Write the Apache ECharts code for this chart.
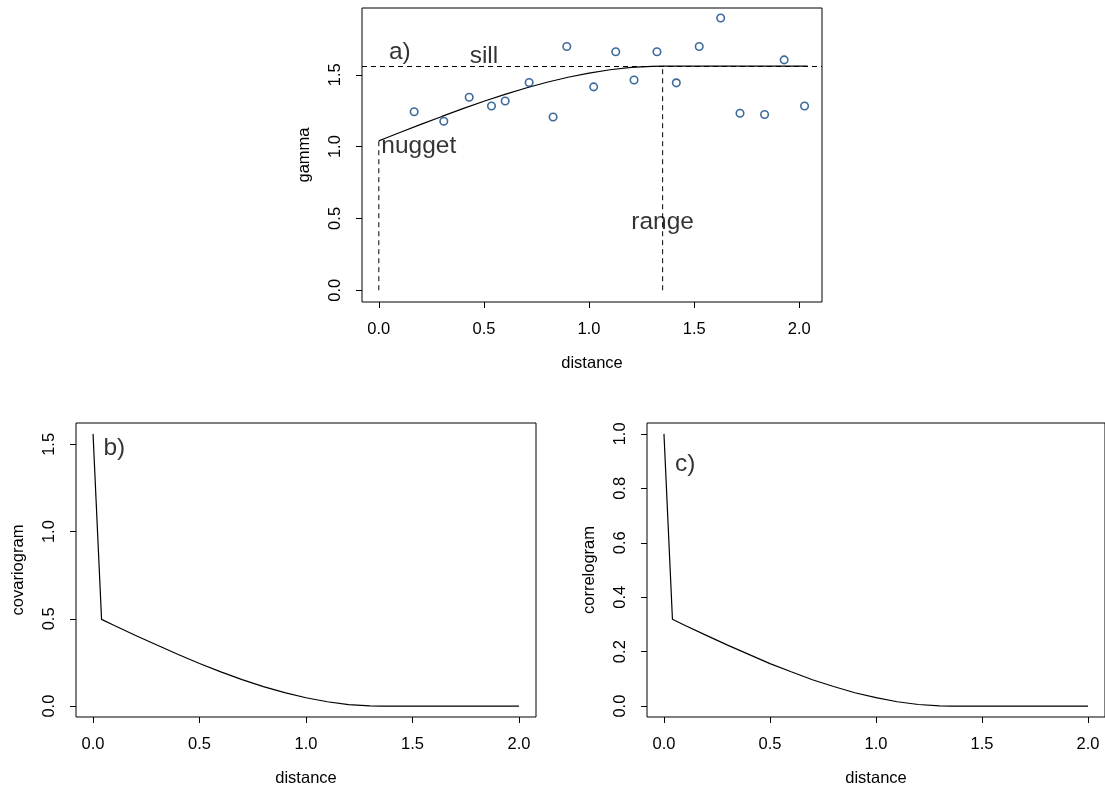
<!DOCTYPE html>
<html lang="en">
<head>
    <meta charset="UTF-8">
    <title>variogram, covariogram, correlogram</title>
    <script src="https://cdn.jsdelivr.net/npm/echarts@6/dist/echarts.min.js"></script>
    <style>
        body { margin: 0; background: #fff; }
        #container { width: 1105px; height: 792px; }
    </style>
</head>
<body>
<div id="container"></div>
<script>
    // empirical semivariogram (panel a)
    var gammaDist = [0.168, 0.309, 0.430, 0.536, 0.601, 0.715, 0.829, 0.894, 1.022, 1.127,
        1.214, 1.323, 1.415, 1.524, 1.626, 1.718, 1.835, 1.928, 2.025];
    var gammaVal = [1.243, 1.176, 1.344, 1.283, 1.318, 1.446, 1.206, 1.697, 1.416, 1.660,
        1.464, 1.660, 1.444, 1.697, 1.895, 1.232, 1.223, 1.604, 1.283];

    // fitted model
    var modelDist = [0, 0.04, 0.1, 0.2, 0.3, 0.4, 0.5, 0.6, 0.7, 0.8, 0.9, 1.0, 1.1, 1.2, 1.3, 1.35, 2.04];
    var modelGamma = [1.04, 1.063, 1.098, 1.155, 1.210, 1.264, 1.316, 1.364, 1.408, 1.448, 1.483,
        1.512, 1.535, 1.551, 1.559, 1.56, 1.56];

    var covDist = [0, 0.04, 0.1, 0.2, 0.3, 0.4, 0.5, 0.6, 0.7, 0.8, 0.9, 1.0, 1.1, 1.2, 1.3, 1.35, 2.0];
    var covVal = [1.56, 0.497, 0.462, 0.405, 0.350, 0.296, 0.244, 0.196, 0.152, 0.112, 0.077,
        0.048, 0.025, 0.009, 0.001, 0, 0];
    var corVal = [1.0, 0.319, 0.296, 0.260, 0.224, 0.190, 0.156, 0.126, 0.097, 0.072, 0.049,
        0.031, 0.016, 0.006, 0.001, 0, 0];

    var sill = 1.56;
    var nugget = 1.04;
    var range = 1.35;

    var xTicks = [0, 0.5, 1.0, 1.5, 2.0];
    var yTicksA = [0, 0.5, 1.0, 1.5];
    var yTicksB = [0, 0.5, 1.0, 1.5];
    var yTicksC = [0, 0.2, 0.4, 0.6, 0.8, 1.0];

    var annoA = ['a)', 'sill', 'nugget', 'range'];
    var annoAX = [0.1, 0.5, 0.19, 1.35];
    var annoAY = [1.66, 1.63, 1.0, 0.47];

    var font = '"Liberation Sans", Arial, Helvetica, sans-serif';

    function pairs(xs, ys) {
        var out = [];
        for (var i = 0; i < xs.length; i++) out.push([xs[i], ys[i]]);
        return out;
    }

    function xAxisFor(idx, min, max) {
        return {
            type: 'value', gridIndex: idx, min: min, max: max,
            name: 'distance', nameLocation: 'middle', nameGap: 53,
            nameTextStyle: {fontSize: 16.5, color: '#000', fontFamily: font},
            axisLine: {show: false, onZero: false}, splitLine: {show: false},
            axisTick: {show: true, inside: false, length: 6, customValues: xTicks, lineStyle: {color: '#000', width: 1}},
            axisLabel: {
                customValues: xTicks, margin: 19, fontSize: 16.5, color: '#000', fontFamily: font,
                formatter: function (v) { return v.toFixed(1); }
            }
        };
    }

    function yAxisFor(idx, min, max, ticks, name) {
        return {
            type: 'value', gridIndex: idx, min: min, max: max,
            name: name, nameLocation: 'middle', nameGap: 49,
            nameTextStyle: {fontSize: 16.5, color: '#000', fontFamily: font},
            axisLine: {show: false, onZero: false}, splitLine: {show: false},
            axisTick: {show: true, inside: false, length: 6, customValues: ticks, lineStyle: {color: '#000', width: 1}},
            axisLabel: {
                customValues: ticks, margin: 18, rotate: 90, fontSize: 16.5, color: '#000', fontFamily: font,
                formatter: function (v) { return v.toFixed(1); }
            }
        };
    }

    function textSeries(idx, labels, xs, ys) {
        var data = [];
        for (var i = 0; i < labels.length; i++) data.push({value: [xs[i], ys[i]], name: labels[i]});
        return {
            type: 'scatter', xAxisIndex: idx, yAxisIndex: idx, symbolSize: 0.1,
            itemStyle: {color: 'rgba(0,0,0,0)'}, silent: true, z: 5,
            label: {
                show: true, position: 'inside', formatter: '{b}', color: '#000',
                fontSize: 24.5, fontFamily: font
            },
            data: data
        };
    }

    var solid = {color: '#000', width: 1.2};
    var dashed = {color: '#000', width: 1, type: [5, 4]};
    var box = {show: true, borderColor: '#000', borderWidth: 1, backgroundColor: 'transparent'};

    var option = {
        animation: false,
        backgroundColor: '#fff',
        grid: [
            Object.assign({left: 362, top: 8, width: 460, height: 294}, box),
            Object.assign({left: 76, top: 423, width: 460, height: 294}, box),
            Object.assign({left: 647, top: 423, width: 460, height: 294}, box)
        ],
        xAxis: [
            xAxisFor(0, -0.08, 2.108),
            xAxisFor(1, -0.08, 2.08),
            xAxisFor(2, -0.08, 2.08)
        ],
        yAxis: [
            yAxisFor(0, -0.082, 1.965, yTicksA, 'gamma'),
            yAxisFor(1, -0.0624, 1.6224, yTicksB, 'covariogram'),
            yAxisFor(2, -0.04, 1.04, yTicksC, 'correlogram')
        ],
        series: [
            {
                type: 'line', xAxisIndex: 0, yAxisIndex: 0, showSymbol: false, silent: true,
                lineStyle: solid, data: pairs(modelDist, modelGamma),
                markLine: {
                    silent: true, symbol: 'none', label: {show: false},
                    lineStyle: dashed, data: [{yAxis: sill}]
                }
            },
            {
                type: 'line', xAxisIndex: 0, yAxisIndex: 0, showSymbol: false, silent: true,
                lineStyle: dashed, data: [[0, 0], [0, nugget]]
            },
            {
                type: 'line', xAxisIndex: 0, yAxisIndex: 0, showSymbol: false, silent: true,
                lineStyle: dashed, data: [[range, 0], [range, sill]]
            },
            {
                type: 'scatter', xAxisIndex: 0, yAxisIndex: 0, symbol: 'circle', symbolSize: 7.5,
                silent: true, z: 4,
                itemStyle: {color: 'rgba(0,0,0,0)', borderColor: '#0b4585', borderWidth: 1.6},
                data: pairs(gammaDist, gammaVal)
            },
            textSeries(0, annoA, annoAX, annoAY),
            {
                type: 'line', xAxisIndex: 1, yAxisIndex: 1, showSymbol: false, silent: true,
                lineStyle: solid, data: pairs(covDist, covVal)
            },
            textSeries(1, ['b)'], [0.1], [1.48]),
            {
                type: 'line', xAxisIndex: 2, yAxisIndex: 2, showSymbol: false, silent: true,
                lineStyle: solid, data: pairs(covDist, corVal)
            },
            textSeries(2, ['c)'], [0.1], [0.89])
        ]
    };

    var myChart = echarts.init(document.getElementById('container'));
    myChart.setOption(option);
</script>
</body>
</html>
